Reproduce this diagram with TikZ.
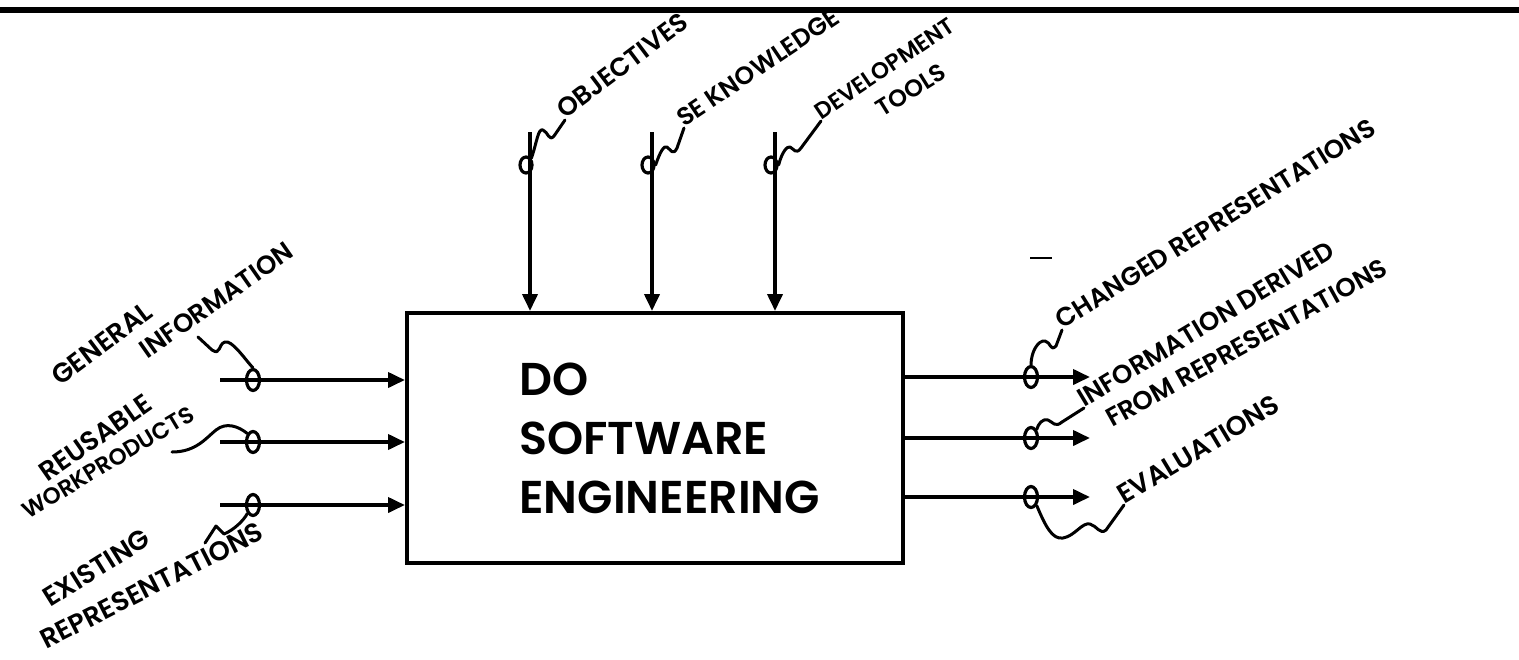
\documentclass[tikz,border=0pt]{standalone}
\usepackage{fontspec}
\setmainfont{Poppins}[BoldFont={Poppins SemiBold}]
\usetikzlibrary{
  arrows.meta,
  calc,
  positioning,
  shapes.geometric,
}
\tikzset{
  >={Triangle[length=8.5pt,width=7.5pt]},
  flow/.style={->, line width=1.9pt},
  tunnel/.style={ellipse, draw, line width=1.6pt, minimum width=6.5pt,
    minimum height=10.5pt, inner sep=0pt},
  squiggle/.style={line width=1.5pt, line cap=round, line join=round},
  tag/.style={anchor=base west, inner sep=0pt,
    font=\fontsize{13}{15}\selectfont\bfseries},
  bigtag/.style={tag, font=\fontsize{13.5}{16}\selectfont\bfseries},
  smalltag/.style={tag, font=\fontsize{11.5}{14}\selectfont\bfseries},
}

\begin{document}
\begin{tikzpicture}[x=0.5pt, y=-0.5pt]
  \useasboundingbox (0,0) rectangle (1519,659);
  \draw [line width=2.6pt] (0,10) -- (1519,10);

  % the activity box
  \node [draw, line width=2pt, minimum width=248pt, minimum height=125pt,
         inner sep=0pt] (activity) at (655,438) {};
  \node [anchor=west, align=left, inner sep=0pt,
         font=\fontsize{23}{29.5}\selectfont\bfseries]
        (title) at (519,438) {DO\\SOFTWARE\\ENGINEERING};

  % controls from above
  \foreach \name/\x in {obj/530, sek/652, dev/775} {
    \coordinate (\name-top) at (\x,132);
    \draw [flow] (\name-top) -- (\name-top |- activity.north);
    \node [tunnel, minimum width=6pt, minimum height=8pt]
          (\name-ring) at (\x-4,165) {};
  }

  % inputs from the left
  \foreach \name/\y in {gen/380, reu/442, exi/505} {
    \coordinate (\name-tail) at (220,\y);
    \draw [flow] (\name-tail) -- (\name-tail -| activity.west);
    \node [tunnel] (\name-ring) at (253,\y) {};
  }

  % outputs to the right
  \foreach \name/\y in {chg/377, inf/438, eva/497} {
    \coordinate (\name-head) at (1090,\y);
    \draw [flow] (\name-head -| activity.east) -- (\name-head);
    \node [tunnel] (\name-ring) at (1031,\y) {};
  }

  % labels
  \node [tag, rotate=37] (obj) at (565,120) {OBJECTIVES};
  \node [tag, rotate=34, font=\fontsize{12.5}{14}\selectfont\bfseries]
        (sek) at (684,128) {SE KNOWLEDGE};
  \node [smalltag, rotate=34] (dev1) at (821,121) {DEVELOPMENT};
  \node [tag, rotate=32, font=\fontsize{12}{14}\selectfont\bfseries]
        (dev2) at (882,118) {TOOLS};

  \node [bigtag, rotate=37] (gen1) at (60,387) {GENERAL};
  \node [tag, rotate=35] (gen2) at (147,360) {INFORMATION};
  \node [bigtag, rotate=35] (reu1) at (47,483) {REUSABLE};
  \node [smalltag, rotate=31] (reu2) at (28,520) {WORKPRODUCTS};
  \node [bigtag, rotate=32] (exi1) at (50,608) {EXISTING};
  \node [bigtag, rotate=27] (exi2) at (46,650) {REPRESENTATIONS};

  \node [tag, rotate=32] (chg) at (1062,330) {CHANGED REPRESENTATIONS};
  \node [tag, rotate=31] (inf1) at (1084,408) {INFORMATION DERIVED};
  \node [tag, rotate=29] (inf2) at (1112,428) {FROM REPRESENTATIONS};
  \node [bigtag, rotate=31] (eva) at (1124,505) {EVALUATIONS};

  % squiggles
  \coordinate (gen-end) at (198,337);
  \coordinate (reu-end) at (172,452);
  \coordinate (exi-end) at (205,543);

  \draw [squiggle] (obj-ring.north east) .. controls (537,142) and (538,128)
    .. (543,130) .. controls (548,132) and (549,142) .. (554,136)
    -- (obj.base west);
  \draw [squiggle] (sek-ring.east) .. controls (660,152) and (664,145)
    .. (667,147) .. controls (671,150) and (673,156) .. (677,148)
    -- (sek.base west);
  \draw [squiggle] (dev-ring.east) .. controls (782,152) and (787,146)
    .. (790,147) .. controls (794,149) and (796,155) .. (801,148)
    -- (dev1.base west);

  \draw [squiggle] (gen-ring.north) .. controls (244,358) and (232,340)
    .. (225,342) .. controls (218,344) and (221,356) .. (212,350)
    -- (gen-end);
  \draw [squiggle] (reu-ring.north west) .. controls (238,426) and (226,422)
    .. (216,430) .. controls (206,438) and (196,452) .. (reu-end);
  \draw [squiggle] (exi-ring.south west) .. controls (244,520) and (234,530)
    .. (224,534) -- (216,526) -- (exi-end);

  \draw [squiggle] (chg-ring.north) .. controls (1031,352) and (1038,340)
    .. (1045,341) .. controls (1051,342) and (1050,352) .. (1056,346)
    -- (chg.base west);
  \draw [squiggle] (inf-ring.north east) .. controls (1038,424) and (1043,418)
    .. (1048,420) .. controls (1053,422) and (1055,428) .. (1062,422)
    -- (inf1.base west);
  \draw [squiggle] (eva-ring.south east) .. controls (1045,525) and (1052,540)
    .. (1063,538) .. controls (1075,536) and (1082,522) .. (1090,524)
    .. controls (1097,526) and (1100,535) .. (1106,530) -- (eva.base west);

  \draw [line width=1pt] (1030,258) -- (1052,258);
\end{tikzpicture}
\end{document}
